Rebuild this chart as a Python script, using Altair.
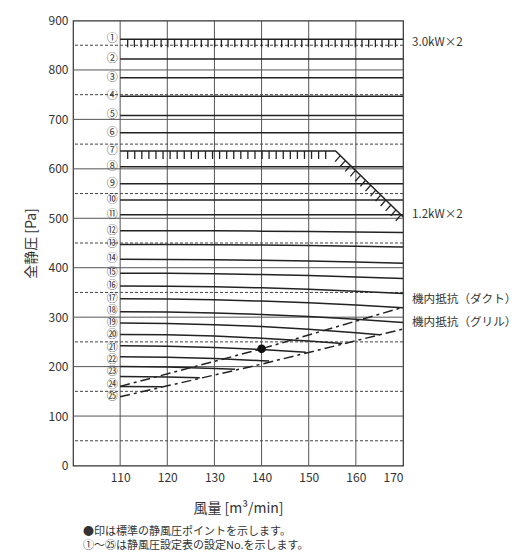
import altair as alt
import pandas as pd
import numpy as np

FONT = "Noto Sans CJK JP"
INK = "#222222"

# ---- data ----
curve_no = ["①", "②", "③", "④", "⑤", "⑥", "⑦", "⑧", "⑨", "⑩", "⑪", "⑫", "⑬",
            "⑭", "⑮", "⑯", "⑰", "⑱", "⑲", "⑳", "㉑", "㉒", "㉓", "㉔", "㉕"]
curve_x = [
    [110, 170], [110, 170], [110, 170], [110, 170], [110, 170], [110, 170],
    [110, 155.7, 170],
    [110, 170], [110, 170], [110, 170], [110, 170],
    [110, 120, 130, 140, 150, 160, 170],
    [110, 120, 130, 140, 150, 160, 170],
    [110, 120, 130, 140, 150, 160, 170],
    [110, 120, 130, 140, 150, 160, 170],
    [110, 120, 130, 140, 150, 160, 170],
    [110, 120, 130, 140, 150, 160, 170],
    [110, 120, 130, 140, 150, 160, 170],
    [110, 120, 130, 140, 150, 160, 165],
    [110, 120, 130, 140, 150, 157.1],
    [110, 120, 130, 140, 149.4],
    [110, 120, 130, 140, 141.6],
    [110, 120, 130, 134.4],
    [110, 120, 126.9],
    [110, 118.9],
]
curve_y = [
    [862, 862], [822, 822], [784, 784], [747, 747], [708, 708], [673, 673],
    [636, 636, 503],
    [604, 604], [570, 570], [537, 537], [507, 507],
    [475, 475, 474.6, 474, 473.2, 472.2, 471],
    [447, 446.9, 446.4, 445.8, 444.8, 443.5, 442],
    [417, 416.8, 416.1, 415, 413.4, 411.4, 409],
    [389, 388.7, 387.8, 386.3, 384.1, 381.4, 378],
    [363, 362.6, 361.3, 359.3, 356.3, 352.6, 348],
    [337, 336.5, 335, 332.5, 329, 324.5, 319],
    [311, 310.4, 308.6, 305.5, 301.2, 295.7, 289],
    [288, 287.2, 284.9, 281, 275.6, 268.6, 264.5],
    [265, 264.2, 261.7, 257.5, 251.7, 246.5],
    [242, 241.2, 238.7, 234.5, 229.1],
    [220, 219.1, 216.4, 212, 211.1],
    [200, 199.1, 196.4, 194.7],
    [180, 179.1, 177.5],
    [160, 159.3],
]
label_y = [862, 822, 784, 747, 708, 673, 636, 604, 570, 537, 507, 475, 447,
           417, 389, 363, 337, 312.6, 289, 264, 238.5, 213.6, 189.3, 163, 138.3]

duct_x = [110, 140, 170]
duct_y = [160, 236, 320]
grille_x = [110, 140, 170]
grille_y = [139, 205, 276]
std_point_x = [140]
std_point_y = [236]

x_ticks = [110, 120, 130, 140, 150, 160, 170]
y_ticks = [0, 100, 200, 300, 400, 500, 600, 700, 800, 900]
grid_solid = [100, 200, 300, 400, 500, 600, 700, 800]
grid_dashed = [50, 150, 250, 350, 450, 550, 650, 750, 850]
grid_vertical = [110, 120, 130, 140, 150, 160]

right_labels = ["3.0kW×2", "1.2kW×2", "機内抵抗（ダクト）", "機内抵抗（グリル）"]
right_labels_y = [855, 507, 334, 288]

notes = ["●印は標準の静風圧ポイントを示します。", "①～㉕は静風圧設定表の設定No.を示します。"]

# ---- tables ----
rows = []
for no, xs_, ys_ in zip(curve_no, curve_x, curve_y):
    for i, (a, b) in enumerate(zip(xs_, ys_)):
        rows.append({"no": no, "x": a, "y": b, "i": i})
curves_df = pd.DataFrame(rows)

# hatch ticks (decoration of the limit lines)
hatch = []
for a in np.arange(111.6, 169.8, 1.42):
    hatch.append({"x": a, "y": 862, "x2": a, "y2": 846})
for a in np.arange(111.6, 154.6, 1.5):
    hatch.append({"x": a, "y": 636, "x2": a, "y2": 620})
for t in np.linspace(0.07, 0.97, 13):
    px = 155.7 + t * (170 - 155.7)
    py = 636 + t * (503 - 636)
    hatch.append({"x": px, "y": py, "x2": px - 1.1, "y2": py - 12})
hatch_df = pd.DataFrame(hatch)

xs = alt.Scale(domain=[100, 170], nice=False, zero=False)
ys = alt.Scale(domain=[0, 900], nice=False, zero=False)

X = alt.X("x:Q", scale=xs, title="風量 [m³/min]",
          axis=alt.Axis(values=x_ticks, labelFontSize=12, labelPadding=7,
                        titleFontSize=14, titlePadding=18, format="d"))
Y = alt.Y("y:Q", scale=ys, title="全静圧 [Pa]",
          axis=alt.Axis(values=y_ticks, labelFontSize=12, labelPadding=5,
                        titleFontSize=14, titlePadding=10, format="d"))

grid_h = alt.Chart(pd.DataFrame({"y": grid_solid})).mark_rule(
    color="#555555", strokeWidth=1).encode(y=Y)
grid_d = alt.Chart(pd.DataFrame({"y": grid_dashed})).mark_rule(
    color="#444444", strokeWidth=1, strokeDash=[3, 2]).encode(y=Y)
grid_v = alt.Chart(pd.DataFrame({"x": grid_vertical})).mark_rule(
    color="#555555", strokeWidth=1).encode(x=X)

lines = alt.Chart(curves_df).mark_line(color=INK, strokeWidth=1.5).encode(
    x=X, y=Y, detail="no:N", order="i:Q")

ticks = alt.Chart(hatch_df).mark_rule(color=INK, strokeWidth=1.3).encode(
    x=X, y=Y, x2="x2:Q", y2="y2:Q")

duct = alt.Chart(pd.DataFrame({"x": duct_x, "y": duct_y})).mark_line(
    color=INK, strokeWidth=1.5, strokeDash=[10, 4, 3, 4]).encode(x=X, y=Y)
grille = alt.Chart(pd.DataFrame({"x": grille_x, "y": grille_y})).mark_line(
    color=INK, strokeWidth=1.5, strokeDash=[10, 4, 3, 4]).encode(x=X, y=Y)

dot = alt.Chart(pd.DataFrame({"x": std_point_x, "y": std_point_y})).mark_circle(
    color="#111111", size=75, opacity=1).encode(x=X, y=Y)

nums = alt.Chart(pd.DataFrame({"t": curve_no, "y": label_y, "x": [110] * 25})).mark_text(
    font=FONT, fontSize=11, color="#333333", dx=-8, align="center", baseline="middle").encode(
    x=X, y=Y, text="t:N")

rlab = alt.Chart(pd.DataFrame({"t": right_labels, "y": right_labels_y, "x": [170] * 4})).mark_text(
    font=FONT, fontSize=11.6, color="#333333", dx=9, align="left", baseline="middle").encode(
    x=X, y=Y, text="t:N")

note_df = pd.DataFrame({"t": notes})
note1 = alt.Chart(note_df.iloc[[0]]).mark_text(
    font=FONT, fontSize=11, color="#333333", align="left", baseline="middle").encode(
    x=alt.value(10), y=alt.value(511.5), text="t:N")
note2 = alt.Chart(note_df.iloc[[1]]).mark_text(
    font=FONT, fontSize=11, color="#333333", align="left", baseline="middle").encode(
    x=alt.value(10), y=alt.value(525.5), text="t:N")

chart = alt.layer(grid_h, grid_d, grid_v, lines, ticks, duct, grille, dot, nums, rlab,
                  note1, note2).properties(
    width=330, height=445,
    autosize=alt.AutoSizeParams(type="none"),
    padding={"left": 65, "top": 12.5, "right": 117, "bottom": 85},
).configure_view(stroke="#333333", strokeWidth=1.2).configure_axis(
    labelFont=FONT, titleFont=FONT, labelColor="#333333", titleColor="#333333",
    titleFontWeight="normal", grid=False, domain=False, ticks=False)

chart.save("out.html", embed_options={"renderer": "svg", "actions": False})
